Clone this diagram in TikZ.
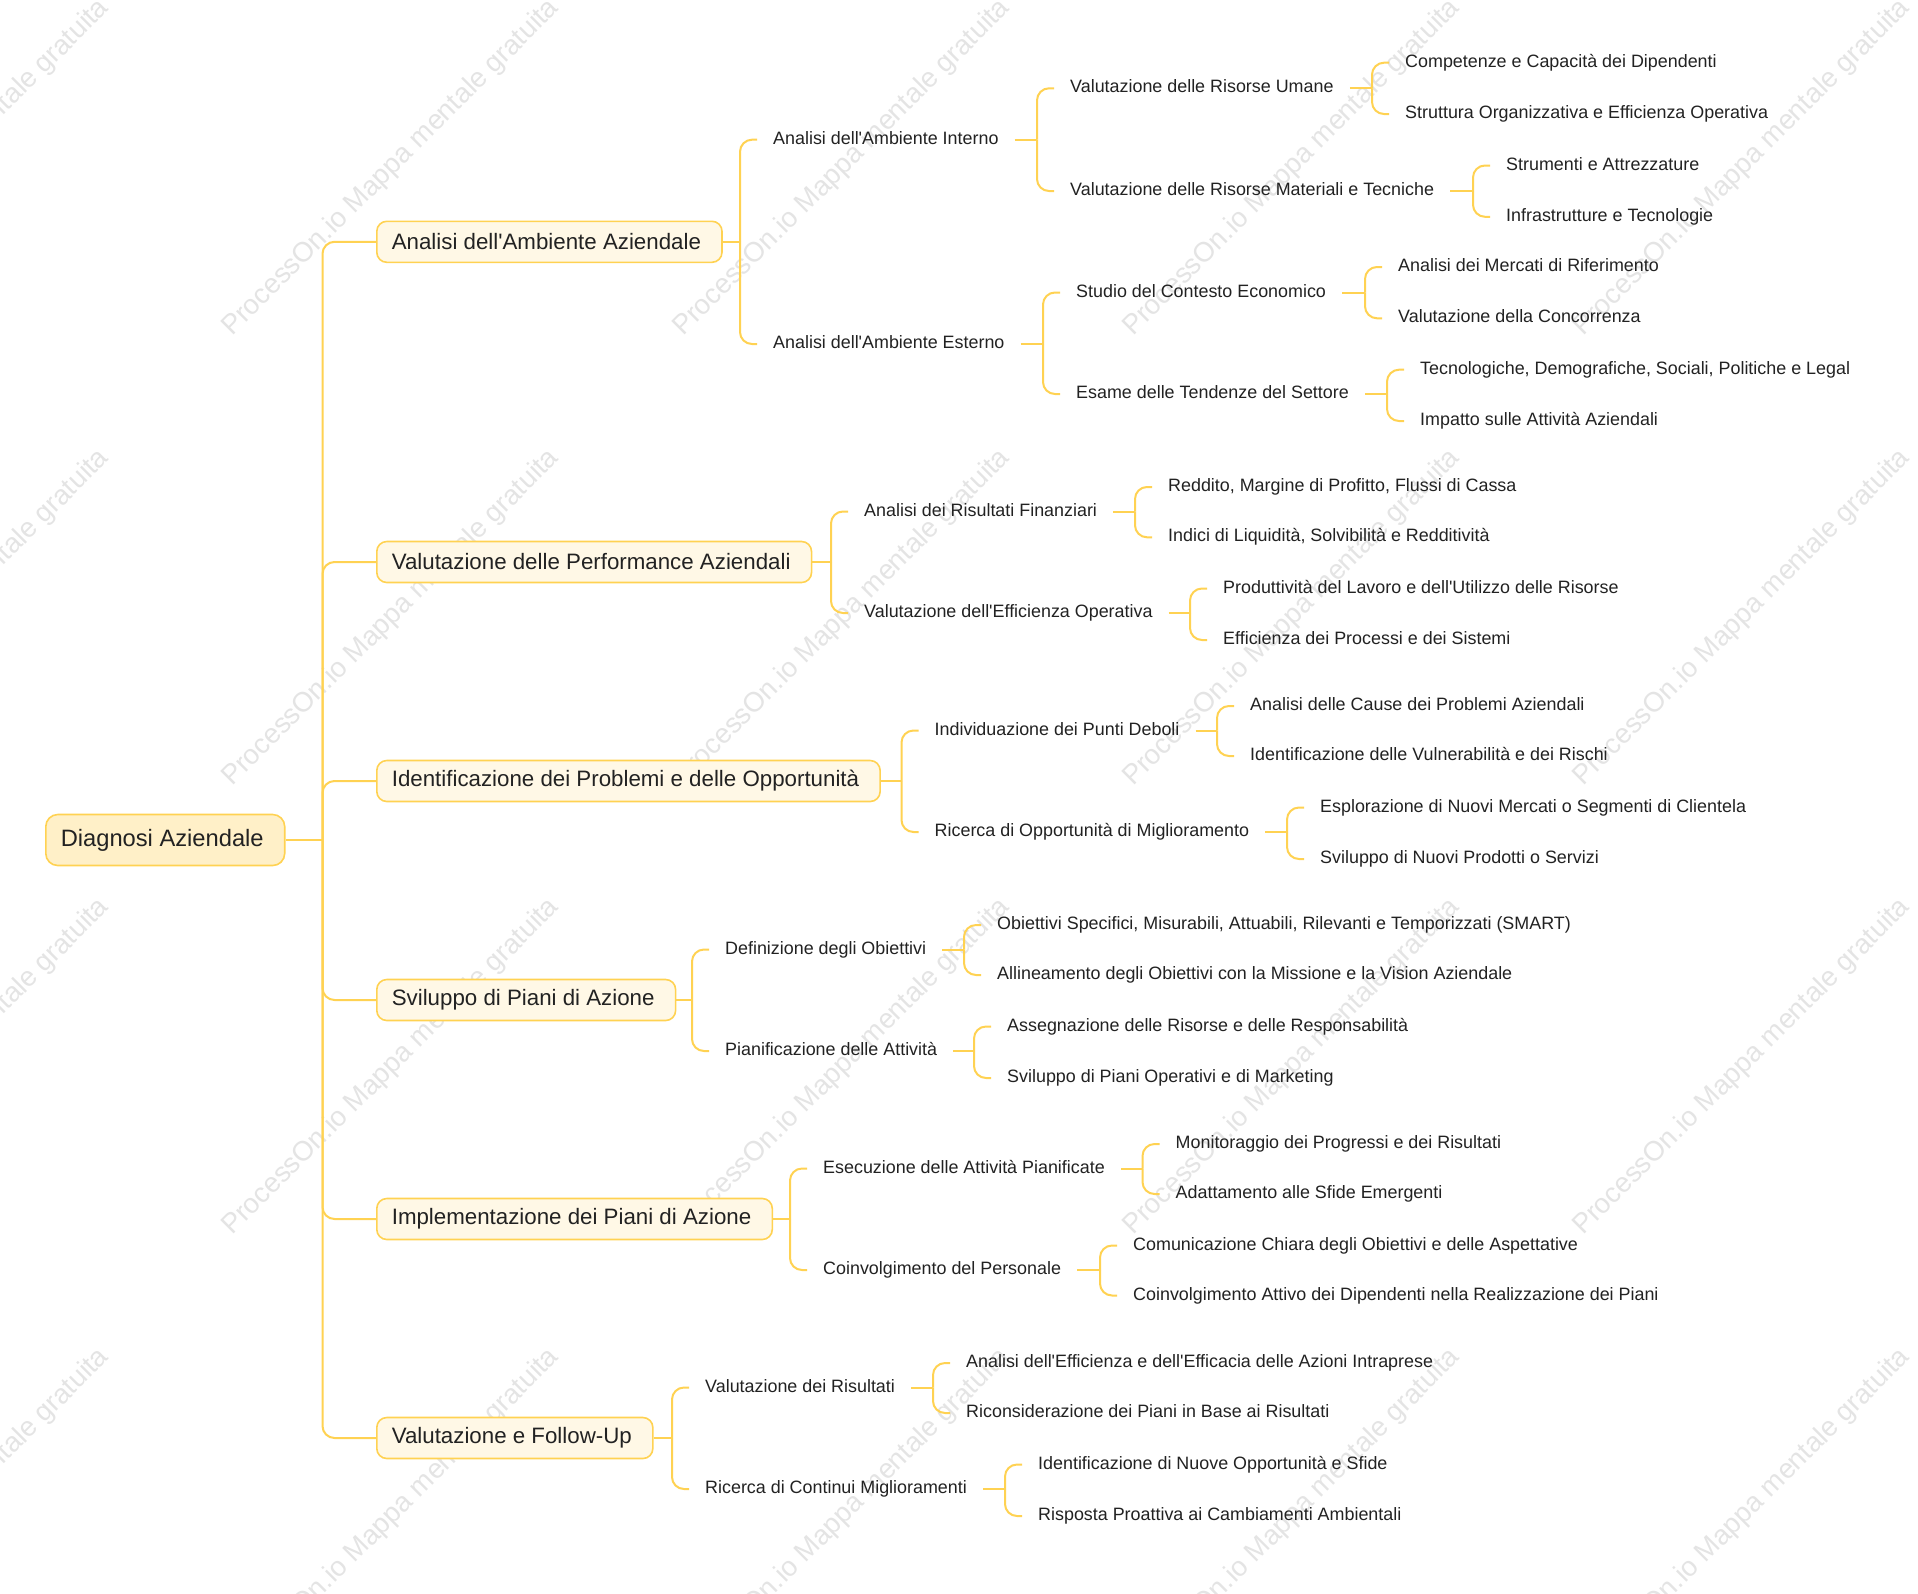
\documentclass[tikz,border=0pt]{standalone}
\usepackage{fontspec}
\setmainfont{Liberation Sans}[Ligatures=TeXOff]
\usetikzlibrary{calc}
\definecolor{lineC}{RGB}{255,210,82}
\definecolor{rootF}{RGB}{255,240,200}
\definecolor{topF}{RGB}{255,248,230}
\definecolor{txtC}{RGB}{34,34,34}
\definecolor{wmC}{RGB}{228,228,228}
\tikzset{
  conn/.style={draw=lineC, line width=2pt},
  rootbox/.style={draw=lineC, line width=1.6pt, fill=rootF, rounded corners=12pt,
    font=\fontsize{23.7}{28}\selectfont, text=txtC, inner xsep=15pt, inner ysep=0pt,
    minimum height=51pt, anchor=west, execute at end node={\hspace{6pt}}},
  topic/.style={draw=lineC, line width=1.6pt, fill=topF, rounded corners=10pt,
    font=\fontsize{22.3}{26}\selectfont, text=txtC, inner xsep=15pt, inner ysep=0pt,
    minimum height=41pt, anchor=west, execute at end node={\hspace{6pt}}},
  leaf/.style={font=\fontsize{17.9}{21}\selectfont, text=txtC, inner xsep=16pt,
    inner ysep=0pt, text height=13pt, text depth=4pt, anchor=west},
  wmark/.style={font=\fontsize{27.6}{32}\selectfont, text=wmC, rotate=45}
}
\newcommand\mmfork[3]{%
  \coordinate (J-#1) at ($(#1.east -| #2.west)+(-17,0)$);
  \draw[conn] (#1.east) -- (J-#1);
  \draw[conn,rounded corners=12pt] (J-#1) |- (#2.west);
  \draw[conn,rounded corners=12pt] (J-#1) |- (#3.west);
}
\begin{document}
\begin{tikzpicture}[x=1pt,y=-1pt]
\useasboundingbox (0,0) rectangle (1918,1593);
\fill[white] (0,0) rectangle (1918,1593);
% watermark
\begin{scope}
\clip (0,0) rectangle (1918,1593);
\foreach \wx [count=\i] in {-59,391,842,1292,1742}{
  \foreach \wy [count=\j] in {168,618,1067,1517}{
    \node[wmark] (wm-\i-\j) at (\wx,\wy) {ProcessOn.io Mappa mentale gratuita};
  }
}
\end{scope}

% root and main topics
\node[rootbox] (root) at (45,840) {Diagnosi Aziendale};
\node[topic] (t1) at (376,241.8) {Analisi dell'Ambiente Aziendale};
\node[topic] (t2) at (376,562) {Valutazione delle Performance Aziendali};
\node[topic] (t3) at (376,781) {Identificazione dei Problemi e delle Opportunità};
\node[topic] (t4) at (376,1000) {Sviluppo di Piani di Azione};
\node[topic] (t5) at (376,1219) {Implementazione dei Piani di Azione};
\node[topic] (t6) at (376,1438) {Valutazione e Follow-Up};

% group 1
\node[leaf] (t1a) at (757,139.7) {Analisi dell'Ambiente Interno};
\node[leaf] (t1b) at (757,344) {Analisi dell'Ambiente Esterno};
\node[leaf] (t1a1) at (1054,88.3) {Valutazione delle Risorse Umane};
\node[leaf] (t1a2) at (1054,191) {Valutazione delle Risorse Materiali e Tecniche};
\node[leaf] (t1b1) at (1060,292.5) {Studio del Contesto Economico};
\node[leaf] (t1b2) at (1060,394) {Esame delle Tendenze del Settore};
\node[leaf] (t1a1a) at (1389,62.7) {Competenze e Capacità dei Dipendenti};
\node[leaf] (t1a1b) at (1389,114) {Struttura Organizzativa e Efficienza Operativa};
\node[leaf] (t1a2a) at (1490,165.5) {Strumenti e Attrezzature};
\node[leaf] (t1a2b) at (1490,216.8) {Infrastrutture e Tecnologie};
\node[leaf] (t1b1a) at (1382,267) {Analisi dei Mercati di Riferimento};
\node[leaf] (t1b1b) at (1382,318.3) {Valutazione della Concorrenza};
\node[leaf] (t1b2a) at (1404,369.7) {Tecnologiche, Demografiche, Sociali, Politiche e Legal};
\node[leaf] (t1b2b) at (1404,421) {Impatto sulle Attività Aziendali};

% group 2
\node[leaf] (t2a) at (848,511.5) {Analisi dei Risultati Finanziari};
\node[leaf] (t2b) at (848,613) {Valutazione dell'Efficienza Operativa};
\node[leaf] (t2a1) at (1152,487) {Reddito, Margine di Profitto, Flussi di Cassa};
\node[leaf] (t2a2) at (1152,537.3) {Indici di Liquidità, Solvibilità e Redditività};
\node[leaf] (t2b1) at (1207,588.5) {Produttività del Lavoro e dell'Utilizzo delle Risorse};
\node[leaf] (t2b2) at (1207,640) {Efficienza dei Processi e dei Sistemi};

% group 3
\node[leaf] (t3a) at (918.5,730.5) {Individuazione dei Punti Deboli};
\node[leaf] (t3b) at (918.5,832) {Ricerca di Opportunità di Miglioramento};
\node[leaf] (t3a1) at (1234,706) {Analisi delle Cause dei Problemi Aziendali};
\node[leaf] (t3a2) at (1234,756) {Identificazione delle Vulnerabilità e dei Rischi};
\node[leaf] (t3b1) at (1304,807.5) {Esplorazione di Nuovi Mercati o Segmenti di Clientela};
\node[leaf] (t3b2) at (1304,859) {Sviluppo di Nuovi Prodotti o Servizi};

% group 4
\node[leaf] (t4a) at (709,949.5) {Definizione degli Obiettivi};
\node[leaf] (t4b) at (709,1051) {Pianificazione delle Attività};
\node[leaf] (t4a1) at (981,925) {Obiettivi Specifici, Misurabili, Attuabili, Rilevanti e Temporizzati (SMART)};
\node[leaf] (t4a2) at (981,975) {Allineamento degli Obiettivi con la Missione e la Vision Aziendale};
\node[leaf] (t4b1) at (991,1026.5) {Assegnazione delle Risorse e delle Responsabilità};
\node[leaf] (t4b2) at (991,1078) {Sviluppo di Piani Operativi e di Marketing};

% group 5
\node[leaf] (t5a) at (807,1168.5) {Esecuzione delle Attività Pianificate};
\node[leaf] (t5b) at (807,1270) {Coinvolgimento del Personale};
\node[leaf] (t5a1) at (1159.5,1144) {Monitoraggio dei Progressi e dei Risultati};
\node[leaf] (t5a2) at (1159.5,1194) {Adattamento alle Sfide Emergenti};
\node[leaf] (t5b1) at (1117,1245.5) {Comunicazione Chiara degli Obiettivi e delle Aspettative};
\node[leaf] (t5b2) at (1117,1295.5) {Coinvolgimento Attivo dei Dipendenti nella Realizzazione dei Piani};

% group 6
\node[leaf] (t6a) at (689,1387.5) {Valutazione dei Risultati};
\node[leaf] (t6b) at (689,1489) {Ricerca di Continui Miglioramenti};
\node[leaf] (t6a1) at (950,1363) {Analisi dell'Efficienza e dell'Efficacia delle Azioni Intraprese};
\node[leaf] (t6a2) at (950,1413) {Riconsiderazione dei Piani in Base ai Risultati};
\node[leaf] (t6b1) at (1022,1464.5) {Identificazione di Nuove Opportunità e Sfide};
\node[leaf] (t6b2) at (1022,1516) {Risposta Proattiva ai Cambiamenti Ambientali};

% connectors from root
\coordinate (rj) at ($(root.east)+(37,0)$);
\draw[conn] (root.east) -- (rj);
\foreach \t in {t1,t2,t3,t4,t5,t6}{
  \draw[conn,rounded corners=12pt] (rj) |- (\t.west);
}
% forks
\mmfork{t1}{t1a}{t1b}
\mmfork{t1a}{t1a1}{t1a2}
\mmfork{t1b}{t1b1}{t1b2}
\mmfork{t1a1}{t1a1a}{t1a1b}
\mmfork{t1a2}{t1a2a}{t1a2b}
\mmfork{t1b1}{t1b1a}{t1b1b}
\mmfork{t1b2}{t1b2a}{t1b2b}
\mmfork{t2}{t2a}{t2b}
\mmfork{t2a}{t2a1}{t2a2}
\mmfork{t2b}{t2b1}{t2b2}
\mmfork{t3}{t3a}{t3b}
\mmfork{t3a}{t3a1}{t3a2}
\mmfork{t3b}{t3b1}{t3b2}
\mmfork{t4}{t4a}{t4b}
\mmfork{t4a}{t4a1}{t4a2}
\mmfork{t4b}{t4b1}{t4b2}
\mmfork{t5}{t5a}{t5b}
\mmfork{t5a}{t5a1}{t5a2}
\mmfork{t5b}{t5b1}{t5b2}
\mmfork{t6}{t6a}{t6b}
\mmfork{t6a}{t6a1}{t6a2}
\mmfork{t6b}{t6b1}{t6b2}
\end{tikzpicture}
\end{document}
